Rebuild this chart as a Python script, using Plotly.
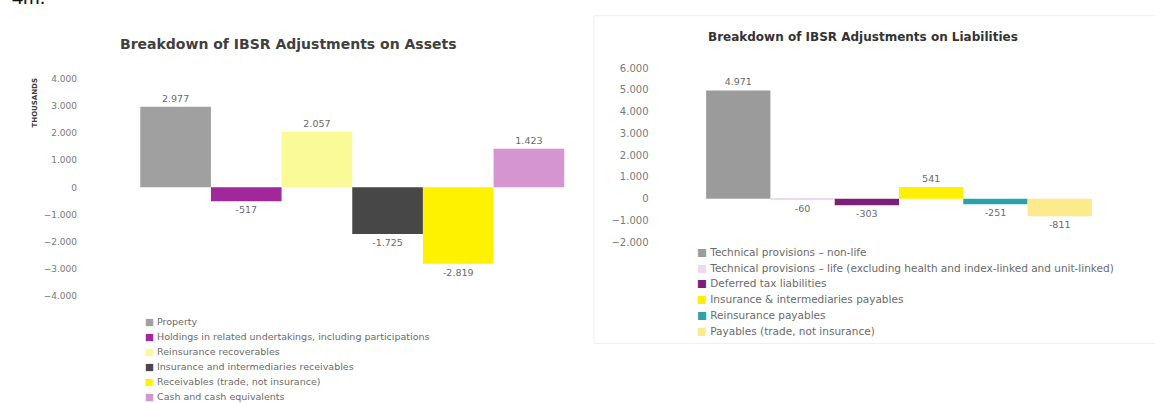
import plotly.graph_objects as go

# ---------------- data ----------------
asset_names = [
    "Property",
    "Holdings in related undertakings, including participations",
    "Reinsurance recoverables",
    "Insurance and intermediaries receivables",
    "Receivables (trade, not insurance)",
    "Cash and cash equivalents",
]
asset_values = [2977, -517, 2057, -1725, -2819, 1423]
asset_colors = ["#A0A0A0", "#A0289A", "#FAFA96", "#474747", "#FFF200", "#D495D0"]
asset_ticks = [-4000, -3000, -2000, -1000, 0, 1000, 2000, 3000, 4000]

liab_names = [
    "Technical provisions \u2013 non-life",
    "Technical provisions \u2013 life (excluding health and index-linked and unit-linked)",
    "Deferred tax liabilities",
    "Insurance & intermediaries payables",
    "Reinsurance payables",
    "Payables (trade, not insurance)",
]
liab_values = [4971, -60, -303, 541, -251, -811]
liab_colors = ["#9B9B9B", "#F2D7F0", "#7A2177", "#FFEF00", "#2AA2A8", "#FCEA8C"]
liab_ticks = [-2000, -1000, 0, 1000, 2000, 3000, 4000, 5000, 6000]

W, H = 1155, 403
FONT = "DejaVu Sans"


def px_x(p):
    return p / W


def px_y(p):
    return 1 - p / H


fig = go.Figure()

for n, v, c in zip(asset_names, asset_values, asset_colors):
    fig.add_trace(go.Bar(
        x=["Assets"], y=[v], name=n, xaxis="x", yaxis="y",
        marker=dict(color=c, line=dict(width=0)),
        texttemplate="%{y:,}", textposition="outside",
        textfont=dict(size=9.5, color="#6a6a6a", family=FONT),
        cliponaxis=False, showlegend=False, hoverinfo="name+y",
    ))

for n, v, c in zip(liab_names, liab_values, liab_colors):
    fig.add_trace(go.Bar(
        x=["Liabilities"], y=[v], name=n, xaxis="x2", yaxis="y2",
        marker=dict(color=c, line=dict(width=0)),
        texttemplate="%{y:,}", textposition="outside",
        textfont=dict(size=9.5, color="#6a6a6a", family=FONT),
        cliponaxis=False, showlegend=False, hoverinfo="name+y",
    ))

fig.update_layout(
    width=W, height=H,
    margin=dict(l=0, r=0, t=0, b=0),
    paper_bgcolor="white", plot_bgcolor="rgba(0,0,0,0)",
    separators=",.",
    barmode="group",
    bargap=0.227,
    bargroupgap=0,
    showlegend=False,
    font=dict(family=FONT),
    xaxis=dict(domain=[px_x(78), px_x(626.5)], anchor="y", range=[-0.5, 0.5],
               showticklabels=False, showgrid=False, zeroline=False, showline=False, ticks=""),
    yaxis=dict(domain=[px_y(298), px_y(76)], anchor="x", range=[-4000, 4000],
               tickvals=asset_ticks, tickformat=",",
               tickfont=dict(size=9, color="#7a7a7a", family=FONT),
               showgrid=False, zeroline=False, showline=False, ticks=""),
    xaxis2=dict(domain=[px_x(649.5), px_x(1148.5)], anchor="y2", range=[-0.5, 0.5],
                showticklabels=False, showgrid=False, zeroline=False, showline=False, ticks=""),
    yaxis2=dict(domain=[px_y(243.3), px_y(64.7)], anchor="x2", range=[-2000, 6000],
                tickvals=liab_ticks, tickformat=",",
                tickfont=dict(size=10, color="#7a7a7a", family=FONT),
                showgrid=False, zeroline=False, showline=False, ticks=""),
)

annotations = [
    dict(text="<b>Breakdown of IBSR Adjustments on Assets</b>", x=px_x(288), y=px_y(40),
         xref="paper", yref="paper", xanchor="center", yanchor="middle", showarrow=False,
         font=dict(size=14, color="#404040", family=FONT)),
    dict(text="<b>Breakdown of IBSR Adjustments on Liabilities</b>", x=px_x(863), y=px_y(33),
         xref="paper", yref="paper", xanchor="center", yanchor="middle", showarrow=False,
         font=dict(size=12, color="#333333", family=FONT)),
    dict(text="<b>THOUSANDS</b>", x=px_x(35), y=px_y(101), textangle=-90,
         xref="paper", yref="paper", xanchor="center", yanchor="middle", showarrow=False,
         font=dict(size=7, color="#404040", family=FONT)),
    dict(text="4m.", x=px_x(10), y=px_y(5), xref="paper", yref="paper",
         xanchor="left", yanchor="bottom", showarrow=False,
         font=dict(size=20, color="#111111", family="Liberation Sans")),
]

# legends drawn as text entries
for i, (n, c) in enumerate(zip(asset_names, asset_colors)):
    annotations.append(dict(
        text=f"<span style='color:{c}'>\u25a0</span> {n}",
        x=px_x(143), y=px_y(325 + i * 15.3), xref="paper", yref="paper",
        xanchor="left", yanchor="middle", showarrow=False,
        font=dict(size=9.5, color="#6a6a6a", family=FONT)))

for i, (n, c) in enumerate(zip(liab_names, liab_colors)):
    annotations.append(dict(
        text=f"<span style='color:{c}'>\u25a0</span> {n}",
        x=px_x(695), y=px_y(253 + i * 16.2), xref="paper", yref="paper",
        xanchor="left", yanchor="middle", showarrow=False,
        font=dict(size=10.5, color="#6a6a6a", family=FONT)))

fig.update_layout(annotations=annotations)

fig.add_shape(type="rect", xref="paper", yref="paper",
              x0=px_x(594), x1=px_x(1160), y0=px_y(347), y1=px_y(11),
              line=dict(color="#EEEEEE", width=1), fillcolor="rgba(0,0,0,0)", layer="below")

fig.write_html("out.html", config={"displayModeBar": False},
               post_script="document.body.style.margin='0px';")
